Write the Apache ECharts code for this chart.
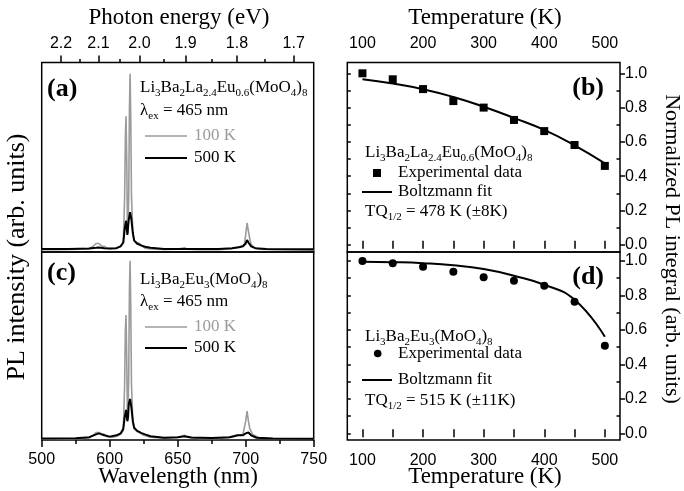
<!DOCTYPE html>
<html><head><meta charset="utf-8">
<script src="https://cdn.jsdelivr.net/npm/echarts@6/dist/echarts.min.js"></script>
<style>html,body{margin:0;padding:0;background:#fff}#c{width:684px;height:491px}</style>
</head><body><div id="c"></div>
<script>
// ---- data ----
// panel (a): Li3Ba2La2.4Eu0.6(MoO4)8 spectra [wavelength nm, relative intensity]
const specA100 = [[550,0.012],[560,0.012],[570,0.013],[578,0.015],[580,0.018],[584,0.016],[588,0.03],[590,0.045],[591,0.048],[592,0.045],[593,0.035],[594,0.032],[595,0.035],[596,0.03],[598,0.02],[600,0.018],[604,0.02],[606,0.025],[608,0.03],[610,0.05],[611,0.3],[611.5,0.6],[612,0.716],[612.5,0.5],[613,0.15],[613.5,0.1],[614,0.3],[614.5,0.75],[615,0.94],[615.5,0.7],[616,0.3],[617,0.1],[618,0.06],[620,0.05],[622,0.045],[624,0.03],[626,0.02],[630,0.016],[640,0.013],[650,0.015],[653,0.02],[655,0.022],[657,0.015],[665,0.012],[680,0.012],[690,0.018],[694,0.025],[697,0.03],[699,0.04],[700,0.09],[701,0.153],[702,0.11],[703,0.07],[704,0.04],[706,0.025],[710,0.015],[720,0.012],[750,0.01]];
const specA500 = [[550,0.016],[570,0.016],[585,0.018],[590,0.022],[592,0.024],[596,0.02],[600,0.018],[605,0.02],[608,0.03],[610,0.05],[611,0.12],[612,0.165],[612.5,0.13],[613,0.09],[613.5,0.1],[614,0.17],[615,0.21],[616,0.17],[617,0.1],[618,0.06],[620,0.045],[623,0.035],[626,0.028],[630,0.022],[640,0.016],[655,0.016],[680,0.016],[690,0.02],[695,0.025],[698,0.03],[700,0.045],[701,0.063],[702,0.05],[704,0.03],[707,0.02],[715,0.016],[750,0.015]];
// panel (c): Li3Ba2Eu3(MoO4)8 spectra
const specC100 = [[550,0.006],[570,0.006],[580,0.008],[585,0.012],[588,0.025],[590,0.04],[591,0.044],[592,0.04],[593,0.03],[594,0.033],[595,0.035],[596,0.03],[598,0.018],[602,0.015],[606,0.022],[608,0.03],[610,0.05],[611,0.3],[611.5,0.58],[612,0.665],[612.5,0.45],[613,0.15],[613.5,0.12],[614,0.35],[614.5,0.8],[615,0.954],[615.5,0.7],[616,0.3],[617,0.1],[618,0.06],[620,0.045],[622,0.04],[625,0.025],[630,0.015],[640,0.01],[650,0.013],[653,0.02],[655,0.025],[657,0.015],[665,0.008],[680,0.008],[690,0.015],[695,0.025],[698,0.03],[700,0.1],[701,0.154],[702,0.1],[703,0.06],[705,0.03],[710,0.012],[720,0.007],[750,0.005]];
const specC500 = [[550,0.008],[575,0.009],[585,0.015],[590,0.03],[592,0.035],[594,0.03],[596,0.025],[600,0.018],[605,0.025],[608,0.035],[610,0.06],[611,0.12],[612,0.16],[612.5,0.13],[613,0.1],[613.5,0.12],[614,0.19],[615,0.218],[616,0.17],[617,0.1],[618,0.065],[620,0.05],[623,0.038],[626,0.03],[630,0.02],[640,0.012],[650,0.015],[655,0.02],[660,0.013],[675,0.01],[688,0.015],[694,0.025],[698,0.025],[700,0.035],[701,0.044],[702,0.04],[704,0.025],[708,0.012],[720,0.008],[750,0.007]];
// wavelength axis tick labels (as printed in the figure)
const wlTickLabels = ['500','600','650','700','750'];
// photon-energy axis: labels and their positions on the wavelength scale (nm)
const energyLabels = ['2.2','2.1','2.0','1.9','1.8','1.7'];
const energyTickNm = [564.2, 591.7, 621.9, 655.8, 693.6, 735.3];
const energyMinorNm = [577.7, 607.1, 639.5, 674.7, 713.9];
// temperature panels
const temps = [100,150,200,250,300,350,400,450,500];
const expB = [1.0,0.965,0.908,0.838,0.80,0.728,0.663,0.582,0.46];
const fitB = [0.965,0.94,0.907,0.862,0.805,0.74,0.67,0.58,0.475];
const expD = [1.0,0.987,0.967,0.938,0.905,0.885,0.856,0.763,0.508];
const fitD = [0.996,0.993,0.987,0.975,0.953,0.914,0.862,0.775,0.56];
const tempLabels = [100,200,300,400,500];
const tempTicks = [100,150,200,250,300,350,400,450,500];
const yLabels = [0,0.2,0.4,0.6,0.8,1.0];
const yMinor = [0.1,0.3,0.5,0.7,0.9];
const yAll = [0,0.1,0.2,0.3,0.4,0.5,0.6,0.7,0.8,0.9,1.0];

const SERIF = 'Liberation Serif';
const SANS = 'Liberation Sans';
const chart = echarts.init(document.getElementById('c'), null, {renderer:'canvas'});

const gridStyle = {show:true, borderColor:'#000', borderWidth:1.5, backgroundColor:'transparent'};
const grids = [
  Object.assign({left:41.7, top:62.5, width:272, height:189.5}, gridStyle),
  Object.assign({left:41.7, top:252, width:272, height:188}, gridStyle),
  Object.assign({left:347.3, top:62.5, width:272.7, height:189.5}, gridStyle),
  Object.assign({left:347.3, top:252, width:272.7, height:188}, gridStyle)
];
const lblStyle = {color:'#000', fontFamily:SANS, fontSize:16};
function tickAxis(o){
  return Object.assign({type:'value', axisLine:{show:false}, splitLine:{show:false}}, o);
}
const xAxes = [
  tickAxis({gridIndex:0, min:550, max:750, position:'bottom', axisTick:{show:false}, axisLabel:{show:false}}),
  tickAxis({gridIndex:0, min:550, max:750, position:'top',
    axisTick:{show:true, inside:false, length:7, lineStyle:{color:'#000', width:1.5}, customValues:energyTickNm},
    axisLabel:Object.assign({show:true, margin:11, customValues:energyTickNm,
      formatter:function(v){const i=energyTickNm.indexOf(v);return i>=0?energyLabels[i]:'';}}, lblStyle)}),
  tickAxis({gridIndex:0, min:550, max:750, position:'top',
    axisTick:{show:true, inside:false, length:3.5, lineStyle:{color:'#000', width:1.5}, customValues:energyMinorNm},
    axisLabel:{show:false}}),
  tickAxis({gridIndex:1, min:550, max:750, interval:50, position:'bottom',
    axisTick:{show:true, inside:false, length:7, lineStyle:{color:'#000', width:1.5}},
    minorTick:{show:true, splitNumber:2, length:4, lineStyle:{color:'#000', width:1.5}},
    axisLabel:Object.assign({show:true, margin:12, formatter:function(v){const i=Math.round((v-550)/50);return wlTickLabels[i]||'';}}, lblStyle)}),
  tickAxis({gridIndex:2, min:75, max:525, position:'top',
    axisTick:{show:true, inside:false, length:4, lineStyle:{color:'#000', width:1.5}, customValues:tempTicks},
    axisLabel:Object.assign({show:true, margin:11, customValues:tempLabels}, lblStyle)}),
  tickAxis({gridIndex:2, min:75, max:525, position:'top',
    axisTick:{show:true, inside:true, length:4, lineStyle:{color:'#000', width:1.5}, customValues:tempTicks}, axisLabel:{show:false}}),
  tickAxis({gridIndex:2, min:75, max:525, position:'bottom',
    axisTick:{show:true, inside:true, length:4, lineStyle:{color:'#000', width:1.5}, customValues:tempTicks}, axisLabel:{show:false}}),
  tickAxis({gridIndex:3, min:75, max:525, position:'top',
    axisTick:{show:true, inside:true, length:4, lineStyle:{color:'#000', width:1.5}, customValues:tempTicks}, axisLabel:{show:false}}),
  tickAxis({gridIndex:3, min:75, max:525, position:'bottom',
    axisTick:{show:true, inside:false, length:4, lineStyle:{color:'#000', width:1.5}, customValues:tempTicks},
    axisLabel:Object.assign({show:true, margin:13, customValues:tempLabels}, lblStyle)}),
  tickAxis({gridIndex:3, min:75, max:525, position:'bottom',
    axisTick:{show:true, inside:true, length:4, lineStyle:{color:'#000', width:1.5}, customValues:tempTicks}, axisLabel:{show:false}})
];
function rightY(g, mn, mx){
  return [
    tickAxis({gridIndex:g, min:mn, max:mx, position:'right',
      axisTick:{show:true, inside:false, length:5, lineStyle:{color:'#000', width:1.5}, customValues:yLabels},
      axisLabel:Object.assign({show:true, margin:5, customValues:yLabels, formatter:function(v){return v.toFixed(1);}}, lblStyle)}),
    tickAxis({gridIndex:g, min:mn, max:mx, position:'right',
      axisTick:{show:true, inside:true, length:3.5, lineStyle:{color:'#000', width:1.5}, customValues:yMinor}, axisLabel:{show:false}}),
    tickAxis({gridIndex:g, min:mn, max:mx, position:'left',
      axisTick:{show:true, inside:true, length:3.5, lineStyle:{color:'#000', width:1.5}, customValues:yAll}, axisLabel:{show:false}})
  ];
}
const yAxes = [
  tickAxis({gridIndex:0, min:0, max:1, axisTick:{show:false}, axisLabel:{show:false}}),
  tickAxis({gridIndex:1, min:0, max:1, axisTick:{show:false}, axisLabel:{show:false}})
].concat(rightY(2, -0.042, 1.063)).concat(rightY(3, -0.039, 1.052));

const GRAY = '#9b9b9b';
function spec(data, xi, yi, color, w){
  return {type:'line', xAxisIndex:xi, yAxisIndex:yi, data:data, showSymbol:false, symbol:'none',
    lineStyle:{color:color, width:w}, z: color===GRAY?2:3, animation:false};
}
function pairs(xs, ys){ return xs.map(function(x,i){return [x, ys[i]];}); }

const series = [
  spec(specA100, 0, 0, GRAY, 1.6),
  spec(specA500, 0, 0, '#000', 2),
  spec(specC100, 3, 1, GRAY, 1.6),
  spec(specC500, 3, 1, '#000', 2),
  {type:'line', xAxisIndex:4, yAxisIndex:2, data:pairs(temps, fitB), smooth:true, showSymbol:false, symbol:'none', lineStyle:{color:'#000', width:2}, animation:false},
  {type:'scatter', xAxisIndex:4, yAxisIndex:2, data:pairs(temps, expB), symbol:'rect', symbolSize:8, itemStyle:{color:'#000', opacity:1}, animation:false},
  {type:'line', xAxisIndex:8, yAxisIndex:5, data:pairs(temps, fitD), smooth:true, showSymbol:false, symbol:'none', lineStyle:{color:'#000', width:2}, animation:false},
  {type:'scatter', xAxisIndex:8, yAxisIndex:5, data:pairs(temps, expD), symbol:'circle', symbolSize:8, itemStyle:{color:'#000', opacity:1}, animation:false}
];

const rich = {
  n:{fontFamily:SERIF, fontSize:17, lineHeight:19, verticalAlign:'top', color:'#000'},
  s:{fontFamily:SERIF, fontSize:11, lineHeight:19, verticalAlign:'bottom', color:'#000'}
};
function rtext(x, y, str, color){
  const r = JSON.parse(JSON.stringify(rich));
  if(color){ r.n.color = color; r.s.color = color; }
  return {type:'text', x:x, y:y + 1, style:{text:str, rich:r, verticalAlign:'middle', align:'left'}, z:10};
}
function ptext(x, y, str, opt){
  return {type:'text', x:x, y:y, style:Object.assign({text:str, fontFamily:SERIF, fontSize:17, fill:'#000', verticalAlign:'middle', align:'left'}, opt||{}), z:10};
}
function hline(x1, x2, y, color, w){
  return {type:'line', shape:{x1:x1, y1:y, x2:x2, y2:y}, style:{stroke:color, lineWidth:w}, z:10};
}
const graphic = [
  ptext(179, 18, 'Photon energy (eV)', {fontSize:23, align:'center'}),
  ptext(485, 18, 'Temperature (K)', {fontSize:23, align:'center'}),
  ptext(178, 477, 'Wavelength (nm)', {fontSize:23, align:'center'}),
  ptext(485, 477, 'Temperature (K)', {fontSize:23, align:'center'}),
  {type:'text', x:17, y:257, rotation:Math.PI/2, style:{text:'PL intensity (arb. units)', fontFamily:SERIF, fontSize:26, fill:'#000', align:'center', verticalAlign:'middle'}, z:10},
  {type:'text', x:672, y:249, rotation:-Math.PI/2, style:{text:'Normalized PL integral (arb. units)', fontFamily:SERIF, fontSize:22, fill:'#000', align:'center', verticalAlign:'middle'}, z:10},
  ptext(47, 89, '(a)', {fontSize:26, fontWeight:'bold'}),
  ptext(47, 273, '(c)', {fontSize:26, fontWeight:'bold'}),
  ptext(604, 88, '(b)', {fontSize:26, fontWeight:'bold', align:'right'}),
  ptext(604, 277, '(d)', {fontSize:26, fontWeight:'bold', align:'right'}),
  rtext(140, 88, '{n|Li}{s|3}{n|Ba}{s|2}{n|La}{s|2.4}{n|Eu}{s|0.6}{n|(MoO}{s|4}{n|)}{s|8}'),
  rtext(140, 111, '{n|λ}{s|ex}{n| = 465 nm}'),
  hline(145, 187, 136, GRAY, 1.6),
  ptext(194, 136, '100 K', {fill:GRAY}),
  hline(145, 187, 158, '#000', 2),
  ptext(194, 158, '500 K'),
  rtext(140, 280, '{n|Li}{s|3}{n|Ba}{s|2}{n|Eu}{s|3}{n|(MoO}{s|4}{n|)}{s|8}'),
  rtext(140, 302, '{n|λ}{s|ex}{n| = 465 nm}'),
  hline(145, 187, 327, GRAY, 1.6),
  ptext(194, 327, '100 K', {fill:GRAY}),
  hline(145, 187, 348, '#000', 2),
  ptext(194, 348, '500 K'),
  rtext(365, 153, '{n|Li}{s|3}{n|Ba}{s|2}{n|La}{s|2.4}{n|Eu}{s|0.6}{n|(MoO}{s|4}{n|)}{s|8}'),
  {type:'rect', shape:{x:373, y:169, width:8, height:8}, style:{fill:'#000'}, z:10},
  ptext(398, 173, 'Experimental data'),
  hline(362, 392, 192, '#000', 2),
  ptext(398, 192, 'Boltzmann fit'),
  rtext(365, 212, '{n|TQ}{s|1/2}{n| = 478 K (±8K)}'),
  rtext(365, 337, '{n|Li}{s|3}{n|Ba}{s|2}{n|Eu}{s|3}{n|(MoO}{s|4}{n|)}{s|8}'),
  {type:'circle', shape:{cx:377.7, cy:353.5, r:3.8}, style:{fill:'#000'}, z:10},
  ptext(398, 354, 'Experimental data'),
  hline(362, 392, 380, '#000', 2),
  ptext(398, 380, 'Boltzmann fit'),
  rtext(365, 401, '{n|TQ}{s|1/2}{n| = 515 K (±11K)}')
];

chart.setOption({
  animation:false,
  backgroundColor:'#fff',
  grid:grids,
  xAxis:xAxes,
  yAxis:yAxes,
  series:series,
  graphic:graphic
});
</script>
</body></html>
